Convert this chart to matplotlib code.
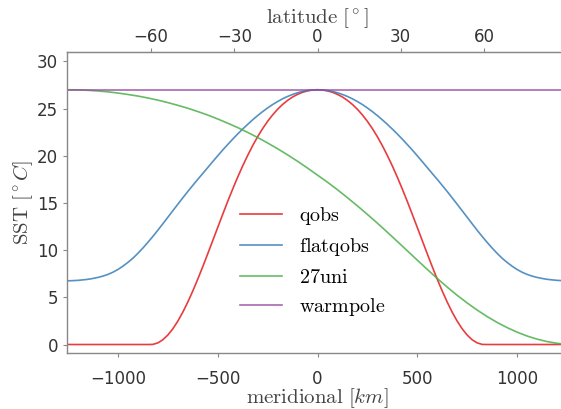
import matplotlib
matplotlib.use('Agg')
import matplotlib.pyplot as plt

# meridional grids [km]
km25 = list(range(-1250, 1251, 25))
km50 = list(range(-1250, 1251, 50))

# symmetric profiles: values read from the pole (-1250 km) to the equator (0 km), every 25 km
qobs_half = [0.0] * 17 + [0.01, 0.17, 0.5, 1.0, 1.66, 2.47, 3.42, 4.49, 5.66, 6.92, 8.24, 9.61,
                          11.0, 12.4, 13.79, 15.16, 16.47, 17.73, 18.92, 20.03, 21.07, 22.02,
                          22.88, 23.65, 24.33, 24.93, 25.44, 25.87, 26.23, 26.51, 26.73, 26.88,
                          26.97, 27.0]
flatqobs_half = [6.75, 6.77, 6.8, 6.85, 6.91, 7.0, 7.11, 7.25, 7.43, 7.66, 7.95, 8.3, 8.7, 9.14,
                 9.66, 10.22, 10.82, 11.45, 12.11, 12.79, 13.48, 14.17, 14.86, 15.54, 16.21,
                 16.86, 17.5, 18.12, 18.75, 19.38, 20.0, 20.61, 21.19, 21.76, 22.31, 22.83,
                 23.33, 23.81, 24.26, 24.68, 25.07, 25.43, 25.75, 26.04, 26.29, 26.5, 26.68,
                 26.82, 26.92, 26.98, 27.0]
qobs = qobs_half + qobs_half[-2::-1]
flatqobs = flatqobs_half + flatqobs_half[-2::-1]

# 27uni every 50 km, pole to pole
uni27 = [27.0, 26.99, 26.94, 26.87, 26.78, 26.65, 26.5, 26.33, 26.13, 25.9, 25.64, 25.35, 25.04,
         24.69, 24.32, 23.9, 23.46, 22.99, 22.48, 21.94, 21.36, 20.75, 20.1, 19.42, 18.7, 17.95,
         17.2, 16.4, 15.56, 14.69, 13.79, 12.86, 11.9, 10.92, 9.93, 8.94, 7.96, 7.0, 6.08, 5.21,
         4.4, 3.65, 2.96, 2.34, 1.79, 1.31, 0.9, 0.57, 0.31, 0.13, 0.0]
warmpole = [27.0] * len(km50)

names = ['qobs', 'flatqobs', '27uni', 'warmpole']
colors = ['#e41a1c', '#377eb8', '#4daf4a', '#984ea3']

plt.rcParams['mathtext.fontset'] = 'cm'
plt.rcParams['font.family'] = 'DejaVu Sans'

fig = plt.figure(figsize=(5.61, 4.09), dpi=100)
ax = fig.add_axes([67 / 561, 1 - 353 / 409, 501 / 561, 301 / 409])

series = [(km25, qobs), (km25, flatqobs), (km50, uni27), (km50, warmpole)]
for (x, y), name, c in zip(series, names, colors):
    ax.plot(x, y, color=c, lw=1.2, alpha=0.85, label=r'$\mathrm{%s}$' % name)

ax.set_xlim(-1255, 1255)
ax.set_ylim(-0.9, 31)
ax.set_xticks([-1000, -500, 0, 500, 1000])
ax.set_yticks([0, 5, 10, 15, 20, 25, 30])

ax.set_xlabel(r'$\mathrm{meridional}\ [km]$', fontsize=15, color='#444444', labelpad=-1)
ax.set_ylabel(r'$\mathrm{SST}\ [^\circ C]$', fontsize=15, color='#444444', labelpad=1.5)

top = ax.secondary_xaxis('top', functions=(lambda x: x * 90 / 1251, lambda d: d * 1251 / 90))
top.set_xticks([-60, -30, 0, 30, 60])
top.set_xlabel(r'$\mathrm{latitude}\ [^\circ]$', fontsize=15, color='#444444', labelpad=4)

ax.tick_params(labelsize=12, colors='#333333', length=3, width=0.8, direction='out')
ax.tick_params(axis='x', pad=9)
top.tick_params(labelsize=12, colors='#333333', length=3, width=0.8, direction='out', pad=1)
ax.tick_params(color='#888888')
top.tick_params(color='#888888')
for s in ax.spines.values():
    s.set_color('#888888')
    s.set_linewidth(1.0)
top.spines['top'].set_color('#888888')

ax.legend(loc='center', bbox_to_anchor=(0.49, 0.304), frameon=False, fontsize=14.5,
          handlelength=2.1, labelspacing=0.46, handletextpad=0.8)

fig.savefig('out.png', dpi=100)
